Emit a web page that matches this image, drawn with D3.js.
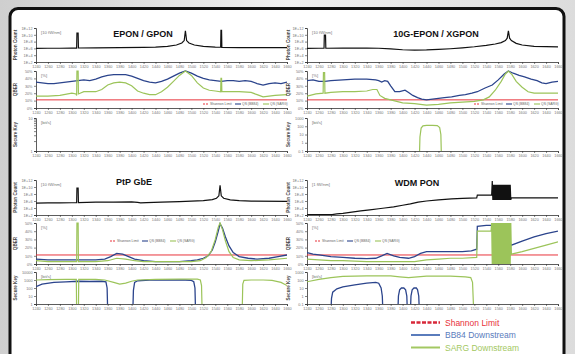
<!DOCTYPE html>
<html>
<head>
<meta charset="utf-8">
<script src="https://cdn.jsdelivr.net/npm/d3@7"></script>
<style>
  html, body { margin: 0; padding: 0; background: #e4e4e4; }
  svg { display: block; font-family: "Liberation Sans", Arial, sans-serif; }
</style>
</head>
<body>
<script>
// shared axes
const xTicks = [1240, 1260, 1280, 1300, 1320, 1340, 1360, 1380, 1400, 1420, 1440,
  1460, 1480, 1500, 1520, 1540, 1560, 1580, 1600, 1620, 1640, 1660];
const photonTicks = [1e2, 1e4, 1e6, 1e8, 1e10, 1e12];
const photonTickLabels = ['1E+2', '1E+4', '1E+6', '1E+8', '1E+10', '1E+12'];
const qberTicks = [0, 10, 20, 30, 40, 50];
const shannon = [[1240, 11], [1660, 11]];

// EPON / GPON
const eponPhoton = [[1240, 1e6], [1260, 1.1e6], [1280, 1.1e6], [1300, 1.2e6], [1308, 1.2e6], [1308.5, 3e10],
  [1310.5, 3e10], [1311, 1.3e6], [1340, 1.5e6], [1380, 1.8e6], [1420, 2e6], [1440, 2.5e6], [1460, 4e6],
  [1475, 1e7], [1484, 4e7], [1488, 2e8], [1490, 1.5e11], [1492, 2e8], [1496, 4e7], [1505, 1e7], [1520, 4e6],
  [1540, 2.5e6], [1549, 2.2e6], [1549.5, 2e11], [1550.5, 2e11], [1551, 2e6], [1580, 1.8e6], [1620, 1.7e6], [1660, 1.6e6]];
const eponBB84 = [[1240, 35], [1250, 34], [1260, 33], [1270, 33], [1280, 34], [1290, 35], [1300, 36], [1310, 37],
  [1320, 38], [1330, 37], [1340, 39], [1350, 42], [1360, 44], [1370, 45], [1380, 45], [1390, 45], [1400, 43],
  [1410, 40], [1420, 37], [1430, 35], [1440, 34], [1450, 36], [1460, 39], [1470, 43], [1480, 47], [1490, 50],
  [1500, 47], [1510, 43], [1520, 40], [1530, 38], [1540, 37], [1550, 36], [1560, 37], [1570, 37], [1580, 36],
  [1590, 37], [1600, 36], [1610, 33], [1620, 31], [1630, 33], [1640, 34], [1650, 33], [1660, 35]];
const eponSarg = [[1240, 16], [1260, 16], [1280, 17], [1300, 20], [1307, 19], [1308, 17], [1308.5, 50], [1310.5, 50],
  [1311, 19], [1320, 22], [1340, 22], [1350, 25], [1360, 31], [1370, 34], [1380, 35], [1390, 34], [1400, 30],
  [1410, 23], [1420, 20], [1430, 18], [1440, 18], [1450, 22], [1460, 28], [1470, 36], [1480, 44], [1490, 50],
  [1500, 44], [1510, 34], [1520, 27], [1530, 24], [1540, 23], [1549, 22], [1549.5, 40], [1550.5, 40], [1551, 22],
  [1560, 22], [1580, 22], [1600, 21], [1610, 18], [1620, 15], [1630, 16], [1640, 17], [1660, 18]];
const eponKeyBB84 = [];
const eponKeySarg = [];

// 10G-EPON / XGPON
const xgponPhoton = [[1240, 1e6], [1260, 1.1e6], [1268.5, 1.1e6], [1269, 8e9], [1271, 8e9], [1271.5, 1.1e6],
  [1300, 1.2e6], [1340, 1.3e6], [1360, 1.1e6], [1380, 7e5], [1400, 4e5], [1420, 3e5], [1440, 3.5e5], [1460, 5e5],
  [1480, 8e5], [1500, 1.5e6], [1520, 3e6], [1540, 8e6], [1555, 2e7], [1565, 5e7], [1572, 2e8], [1575, 1e9],
  [1577, 1.5e11], [1579, 1e9], [1582, 2e8], [1590, 3e7], [1600, 1e7], [1620, 4e6], [1660, 3e6]];
const xgponBB84 = [[1240, 37], [1250, 38], [1260, 36], [1270, 36], [1280, 37], [1300, 38], [1320, 39], [1340, 39],
  [1355, 38], [1360, 37], [1365, 35], [1370, 37], [1375, 36], [1380, 30], [1387, 22], [1395, 22], [1404, 24],
  [1410, 21], [1417, 17], [1425, 14], [1432, 12], [1440, 11], [1450, 12], [1460, 13], [1470, 14], [1482, 15],
  [1495, 17], [1505, 18], [1516, 20], [1525, 22], [1538, 27], [1550, 31], [1560, 38], [1570, 46], [1577, 50],
  [1585, 47], [1595, 44], [1604, 42], [1615, 39], [1625, 37], [1633, 34], [1640, 33], [1650, 35], [1660, 36]];
const xgponSarg = [[1240, 16], [1255, 19], [1267, 20], [1267.5, 48], [1269.5, 48], [1270, 20], [1280, 21],
  [1300, 22], [1320, 22], [1340, 23], [1350, 25], [1357, 25], [1362, 17], [1370, 13], [1380, 11], [1390, 9],
  [1400, 7], [1420, 6], [1440, 4], [1460, 5], [1480, 7], [1500, 8], [1520, 9], [1535, 11], [1545, 15], [1555, 24],
  [1565, 36], [1572, 46], [1577, 50], [1583, 45], [1590, 36], [1600, 28], [1610, 22], [1620, 20], [1640, 20], [1660, 20]];
const xgponKeyBB84 = [];
const xgponKeySarg = [[1428, 0.01], [1429, 5], [1431, 60], [1434, 110], [1440, 130], [1450, 130], [1458, 120],
  [1462, 70], [1464, 10], [1465, 0.01]];

// PtP GbE
const ptpPhoton = [[1240, 2.5e5], [1260, 2.8e5], [1280, 3e5], [1300, 3.2e5], [1308, 3.2e5], [1308.5, 5e9],
  [1310.5, 5e9], [1311, 3.5e5], [1340, 4.5e5], [1370, 5e5], [1400, 5.5e5], [1410, 4e5], [1415, 3e5], [1425, 3.5e5],
  [1450, 5e5], [1480, 7e5], [1500, 9e5], [1520, 1.3e6], [1535, 2.5e6], [1542, 6e6], [1546, 3e7], [1548, 3e10],
  [1550, 3e7], [1554, 6e6], [1565, 2e6], [1580, 1.3e6], [1600, 9e5], [1660, 8e5]];
const ptpBB84 = [[1240, 6], [1260, 5], [1280, 5], [1300, 5], [1320, 5], [1340, 5], [1355, 6], [1365, 9], [1375, 13],
  [1385, 12], [1395, 9], [1405, 6], [1420, 4], [1440, 3], [1460, 3], [1480, 3], [1500, 4], [1510, 5], [1520, 7],
  [1528, 10], [1535, 17], [1540, 27], [1545, 40], [1548, 49], [1552, 44], [1557, 33], [1563, 22], [1570, 14],
  [1580, 9], [1595, 7], [1610, 6], [1630, 7], [1645, 9], [1660, 11]];
const ptpSarg = [[1240, 4], [1260, 3], [1280, 3], [1300, 3], [1308, 3], [1308.5, 50], [1310.5, 50], [1311, 3],
  [1340, 3], [1360, 4], [1375, 7], [1390, 6], [1405, 4], [1420, 3], [1460, 3], [1500, 3], [1515, 4], [1525, 8],
  [1533, 15], [1540, 30], [1545, 45], [1548, 50], [1552, 42], [1557, 28], [1563, 15], [1570, 8], [1580, 5],
  [1600, 4], [1630, 5], [1660, 7]];
const ptpKeyBB84 = [[1240, 150], [1250, 300], [1270, 500], [1290, 600], [1310, 700], [1330, 650], [1350, 700],
  [1357, 600], [1359, 100], [1360, 0.1], [1402, 0.1], [1403, 50], [1405, 500], [1410, 800], [1430, 1000],
  [1460, 1000], [1490, 1000], [1500, 900], [1504, 600], [1506, 100], [1507, 0.1]];
const ptpKeySarg = [[1240, 1000], [1260, 1100], [1290, 1200], [1307.5, 1200], [1308, 0.1], [1311, 0.1],
  [1311.5, 1200], [1340, 1200], [1355, 1000], [1370, 500], [1380, 300], [1390, 400], [1400, 700], [1410, 1000],
  [1440, 1200], [1480, 1300], [1510, 1300], [1515, 1000], [1517, 200], [1518, 0.1], [1585, 0.1], [1586, 300],
  [1588, 900], [1600, 1000], [1620, 1000], [1635, 900], [1650, 500], [1660, 200]];

// WDM PON
const wdmPhoton = [[1240, 1.2e2], [1270, 1.2e2], [1282, 1.3e2], [1290, 2e2], [1300, 3e2], [1315, 7e2], [1330, 1.5e3],
  [1345, 3e3], [1360, 6e3], [1370, 1e4], [1385, 2e4], [1400, 6e4], [1413, 1.5e5], [1426, 5e5], [1440, 1e6],
  [1460, 2e6], [1482, 4e6], [1500, 6e6], [1524, 8e6], [1525, 5e7], [1549, 5e7], [1550, 5e11], [1551, 2e6],
  [1552, 4e10], [1553, 2e6], [1554, 4e10], [1555, 2e6], [1556, 4e10], [1557, 2e6], [1558, 4e10], [1559, 2e6],
  [1560, 4e10], [1561, 2e6], [1562, 4e10], [1563, 2e6], [1564, 4e10], [1565, 2e6], [1566, 4e10], [1567, 2e6],
  [1568, 4e10], [1569, 2e6], [1570, 4e10], [1571, 2e6], [1572, 4e10], [1573, 2e6], [1574, 4e10], [1575, 2e6],
  [1576, 4e10], [1577, 2e6], [1578, 4e10], [1579, 2e6], [1580, 4e10], [1581, 2e6], [1582, 8e6], [1600, 8e6], [1660, 8e6]];
const wdmBB84 = [[1240, 14], [1250, 12], [1260, 11], [1280, 9], [1300, 8], [1320, 7], [1340, 6.5], [1355, 7],
  [1365, 10], [1374, 13], [1385, 10], [1395, 8], [1410, 7], [1420, 9], [1430, 13], [1440, 15], [1460, 15],
  [1480, 15], [1500, 15], [1515, 16], [1524, 18], [1525, 46], [1540, 47], [1549, 47], [1580, 25], [1582, 23],
  [1600, 28], [1620, 33], [1640, 37], [1660, 40]];
const wdmSarg = [[1240, 6], [1260, 5], [1280, 4], [1300, 4], [1340, 3], [1380, 3], [1420, 3], [1440, 5], [1460, 6],
  [1480, 7], [1500, 7], [1524, 8], [1525, 40], [1548, 40], [1549, 50], [1550, 0], [1551, 50], [1552, 0],
  [1553, 50], [1554, 0], [1555, 50], [1556, 0], [1557, 50], [1558, 0], [1559, 50], [1560, 0], [1561, 50],
  [1562, 0], [1563, 50], [1564, 0], [1565, 50], [1566, 0], [1567, 50], [1568, 0], [1569, 50], [1570, 0],
  [1571, 50], [1572, 0], [1573, 50], [1574, 0], [1575, 50], [1576, 0], [1577, 50], [1578, 0], [1579, 50],
  [1580, 0], [1581, 50], [1582, 12], [1600, 15], [1620, 19], [1640, 23], [1660, 27]];
const wdmKeyBB84 = [[1280, 0.01], [1281, 0.5], [1283, 3], [1290, 8], [1300, 14], [1320, 25], [1340, 40], [1355, 50],
  [1360, 40], [1364, 10], [1366, 1], [1367, 0.01], [1392, 0.01], [1393, 1], [1395, 6], [1398, 10], [1402, 10],
  [1405, 6], [1407, 1], [1408, 0.01], [1413, 0.01], [1414, 1], [1416, 6], [1419, 10], [1423, 10], [1425, 6],
  [1427, 1], [1428, 0.01]];
const wdmKeySarg = [[1240, 60], [1260, 120], [1280, 200], [1300, 280], [1340, 320], [1380, 320], [1395, 250],
  [1410, 200], [1425, 250], [1440, 300], [1480, 300], [1505, 250], [1514, 200], [1517, 50], [1519, 0.01]];

const legendNames = ['Shannon Limit', 'BB84 Downstream', 'SARG Downstream'];

const W = 575, H = 354;
const colRed = '#e8343c', colBlue = '#2b448c', colGreen = '#9cc45a';

const svg = d3.select('body').append('svg').attr('width', W).attr('height', H);

const defs = svg.append('defs');
const bg = defs.append('linearGradient').attr('id', 'bg').attr('x1', 0).attr('x2', 1).attr('y1', 0).attr('y2', 0);
bg.append('stop').attr('offset', 0).attr('stop-color', '#cfcfcf');
bg.append('stop').attr('offset', 0.5).attr('stop-color', '#f0f0f0');
bg.append('stop').attr('offset', 1).attr('stop-color', '#dcdcdc');
svg.append('rect').attr('width', W).attr('height', H).attr('fill', 'url(#bg)');
svg.append('rect').attr('x', 10).attr('y', 8.5).attr('width', 554).attr('height', 370)
  .attr('rx', 8).attr('fill', '#fff').attr('stroke', '#111').attr('stroke-width', 3);

const panels = [
  { title: 'EPON / GPON', x0: 36, x1: 287, tx: 143, ty: 37, rows: [[28, 62], [71, 108], [118, 151]],
    photon: eponPhoton, bb84: eponBB84, sarg: eponSarg, keyBB84: eponKeyBB84, keySarg: eponKeySarg,
    keyDomain: [1, 10], keyTicks: [1, 2, 3, 4, 5, 6, 7, 8, 9, 10], unit: '[10 fW/nm]', legend: [203, 104], titleX: 17 },
  { title: '10G-EPON / XGPON', x0: 307, x1: 558, tx: 436, ty: 37, rows: [[28, 62], [71, 108], [118, 151]],
    photon: xgponPhoton, bb84: xgponBB84, sarg: xgponSarg, keyBB84: xgponKeyBB84, keySarg: xgponKeySarg,
    keyDomain: [0.1, 1000], keyTicks: [0.1, 1, 10, 100, 1000], unit: '[10 fW/nm]', legend: [474, 104], titleX: 290 },
  { title: 'PtP GbE', x0: 36, x1: 287, tx: 134, ty: 185, rows: [[180, 215], [223, 264], [272, 304]],
    photon: ptpPhoton, bb84: ptpBB84, sarg: ptpSarg, keyBB84: ptpKeyBB84, keySarg: ptpKeySarg,
    keyDomain: [1, 10000], keyTicks: [1, 10, 100, 1000, 10000], unit: '[10 fW/nm]', legend: [110, 241], titleX: 17 },
  { title: 'WDM PON', x0: 307, x1: 558, tx: 417, ty: 186, rows: [[180, 215], [223, 264], [272, 304]],
    photon: wdmPhoton, bb84: wdmBB84, sarg: wdmSarg, keyBB84: wdmKeyBB84, keySarg: wdmKeySarg,
    keyDomain: [0.1, 1000], keyTicks: [0.1, 1, 10, 100, 1000], unit: '[1 fW/nm]', legend: [315, 241], titleX: 290 }
];

let clipId = 0;
function styleAxis(g) {
  g.selectAll('path.domain').attr('stroke', '#333').attr('stroke-width', 0.8);
  g.selectAll('line').attr('stroke', '#333').attr('stroke-width', 0.6);
  g.selectAll('text').attr('fill', '#777').attr('font-size', 3.8);
}

function subplot(p, row, yScale, yTicks, fmt, yTitle, unit) {
  const [top, bottom] = row;
  const x = d3.scaleLinear().domain([1240, 1660]).range([p.x0, p.x1]);
  yScale.range([bottom, top]);

  svg.append('g').attr('transform', `translate(0,${bottom})`)
    .call(d3.axisBottom(x).tickValues(xTicks).tickSize(2).tickPadding(1.5).tickFormat(d3.format('d')))
    .call(styleAxis);
  svg.append('g').attr('transform', `translate(${p.x0},0)`)
    .call(d3.axisLeft(yScale).tickValues(yTicks).tickSize(2).tickPadding(1.5).tickFormat(fmt))
    .call(styleAxis);

  svg.append('text').attr('transform', `translate(${p.titleX},${(top + bottom) / 2}) rotate(-90)`)
    .attr('text-anchor', 'middle').attr('font-size', 4.6).attr('font-weight', 'bold').attr('fill', '#444')
    .text(yTitle);
  svg.append('text').attr('x', p.x0 + 5).attr('y', top + 6).attr('font-size', 4.2).attr('fill', '#777').text(unit);

  const id = 'clip' + (clipId++);
  defs.append('clipPath').attr('id', id).append('rect')
    .attr('x', p.x0).attr('y', top - 1).attr('width', p.x1 - p.x0).attr('height', bottom - top + 1);
  const g = svg.append('g').attr('clip-path', `url(#${id})`);
  const line = d3.line().x(d => x(d[0])).y(d => yScale(d[1]));
  return { g, line };
}

panels.forEach(p => {
  svg.append('text').attr('x', p.tx).attr('y', p.ty).attr('text-anchor', 'middle')
    .attr('font-size', 9).attr('font-weight', 'bold').attr('fill', '#111').text(p.title);

  // photon count
  const ph = subplot(p, p.rows[0], d3.scaleLog().domain([1e2, 1e12]), photonTicks,
    d => photonTickLabels[photonTicks.indexOf(d)], 'Photon Count', p.unit);
  ph.g.append('path').datum(p.photon).attr('d', ph.line)
    .attr('fill', 'none').attr('stroke', '#111').attr('stroke-width', 1.2);

  // QBER
  const q = subplot(p, p.rows[1], d3.scaleLinear().domain([0, 50]), qberTicks, d => d + '%', 'QBER', '[%]');
  q.g.append('path').datum(shannon).attr('d', q.line)
    .attr('fill', 'none').attr('stroke', colRed).attr('stroke-width', 1);
  q.g.append('path').datum(p.bb84).attr('d', q.line)
    .attr('fill', 'none').attr('stroke', colBlue).attr('stroke-width', 1.3);
  q.g.append('path').datum(p.sarg).attr('d', q.line)
    .attr('fill', 'none').attr('stroke', colGreen).attr('stroke-width', 1.2);

  // small in-plot legend
  const lg = svg.append('g').attr('transform', `translate(${p.legend[0]},${p.legend[1]})`);
  [['Shannon Limit', colRed, 22], ['QS (BB84)', colBlue, 18], ['QS (SARG)', colGreen, 18]].reduce((off, [name, c, w]) => {
    lg.append('line').attr('x1', off).attr('x2', off + 6).attr('stroke', c).attr('stroke-width', 1.1)
      .attr('stroke-dasharray', name === 'Shannon Limit' ? '2,1' : null);
    lg.append('text').attr('x', off + 7).attr('y', 1.2).attr('font-size', 3.4).attr('fill', '#666').text(name);
    return off + 7 + w + 3;
  }, 0);

  // secure key
  const fmtKey = p.keyDomain[1] === 10 ? (d => (d === 1 || d === 10) ? d : '') : (d => String(d));
  const k = subplot(p, p.rows[2], d3.scaleLog().domain(p.keyDomain), p.keyTicks, fmtKey, 'Secure Key', '[bit/s]');
  if (p.keyBB84.length) k.g.append('path').datum(p.keyBB84).attr('d', k.line)
    .attr('fill', 'none').attr('stroke', colBlue).attr('stroke-width', 1.3);
  if (p.keySarg.length) k.g.append('path').datum(p.keySarg).attr('d', k.line)
    .attr('fill', 'none').attr('stroke', colGreen).attr('stroke-width', 1.2);
});

// main legend
const legendColors = ['#e8303a', '#5a7cbc', '#a3c862'];
const leg = svg.append('g').attr('transform', 'translate(411,322.5)');
legendNames.forEach((name, i) => {
  leg.append('line').attr('x1', 0).attr('x2', 29).attr('y1', i * 12.5).attr('y2', i * 12.5)
    .attr('stroke', i === 0 ? '#d8283a' : legendColors[i]).attr('stroke-width', i === 0 ? 2.5 : 2)
    .attr('stroke-dasharray', i === 0 ? '4,1.5' : null);
  leg.append('text').attr('x', 34).attr('y', i * 12.5 + 3).attr('font-size', 8.5)
    .attr('fill', legendColors[i]).text(name);
});
</script>
</body>
</html>
